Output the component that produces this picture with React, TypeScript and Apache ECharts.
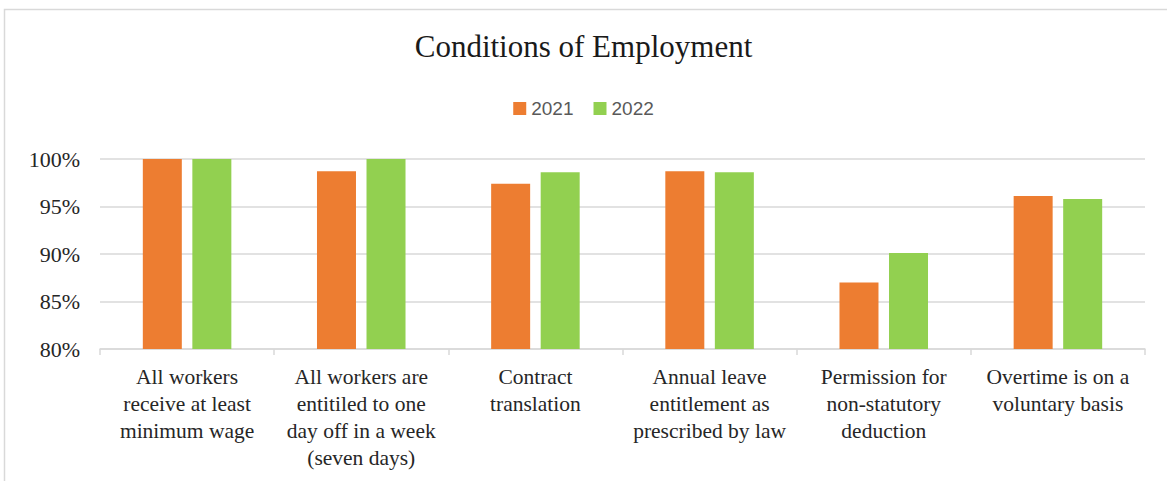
import React, { useEffect, useRef } from "react";
import * as echarts from "echarts";

const categories = [
  "All workers\nreceive at least\nminimum wage",
  "All workers are\nentitiled to one\nday off in a week\n(seven days)",
  "Contract\ntranslation",
  "Annual leave\nentitlement as\nprescribed by law",
  "Permission for\nnon-statutory\ndeduction",
  "Overtime is on a\nvoluntary basis",
];
const values2021 = [100, 98.7, 97.4, 98.7, 87.0, 96.1];
const values2022 = [100, 100, 98.6, 98.6, 90.1, 95.8];
const seriesNames = ["2021", "2022"];
const yTicks = { min: 80, max: 100, interval: 5 };

const SERIF = "'Liberation Serif', 'DejaVu Serif', serif";
const SANS = "'Liberation Sans', 'Open Sans', sans-serif";

export default function App() {
  const ref = useRef<HTMLDivElement>(null);
  useEffect(() => {
    if (!ref.current) return;
    const chart = echarts.init(ref.current, undefined, { renderer: "svg" });
    chart.setOption({
      animation: false,
      backgroundColor: "#ffffff",
      title: {
        text: "Conditions of Employment",
        left: "center",
        top: 26,
        textStyle: { fontFamily: SERIF, fontSize: 31, fontWeight: "normal", color: "#1a1a1a" },
      },
      legend: {
        data: seriesNames,
        top: 94,
        left: "center",
        itemWidth: 13,
        itemHeight: 13,
        itemGap: 20,
        icon: "rect",
        textStyle: { fontFamily: SANS, fontSize: 19, color: "#595959" },
      },
      graphic: [
        {
          type: "rect",
          shape: { x: 4.5, y: 9.5, width: 1300, height: 700 },
          style: { fill: "none", stroke: "#d9d9d9", lineWidth: 1.5 },
          silent: true,
          z: -1,
        },
      ],
      grid: { left: 100, right: 22, top: 159, bottom: 132, containLabel: false },
      xAxis: {
        type: "category",
        data: categories,
        axisLine: { show: true, lineStyle: { color: "#d9d9d9", width: 1.5 } },
        axisTick: { show: true, length: 6, lineStyle: { color: "#d9d9d9", width: 1.5 } },
        axisLabel: {
          interval: 0,
          margin: 14,
          fontFamily: SERIF,
          fontSize: 21.5,
          lineHeight: 27,
          color: "#262626",
        },
      },
      yAxis: {
        type: "value",
        min: yTicks.min,
        max: yTicks.max,
        interval: yTicks.interval,
        axisLine: { show: false },
        axisTick: { show: false },
        splitLine: { lineStyle: { color: "#d9d9d9", width: 1.5 } },
        axisLabel: {
          margin: 20,
          fontFamily: SERIF,
          fontSize: 22,
          color: "#262626",
          formatter: (v: number) => `${v}%`,
        },
      },
      series: [
        {
          name: seriesNames[0],
          type: "bar",
          data: values2021,
          barWidth: 39,
          barGap: "27%",
          itemStyle: { color: "#ED7D31" },
        },
        {
          name: seriesNames[1],
          type: "bar",
          data: values2022,
          barWidth: 39,
          barGap: "27%",
          itemStyle: { color: "#92D050" },
        },
      ],
    });
    return () => chart.dispose();
  }, []);
  return (
    <div
      ref={ref}
      style={{ position: "fixed", left: 0, top: 0, width: 1167, height: 481 }}
    />
  );
}
